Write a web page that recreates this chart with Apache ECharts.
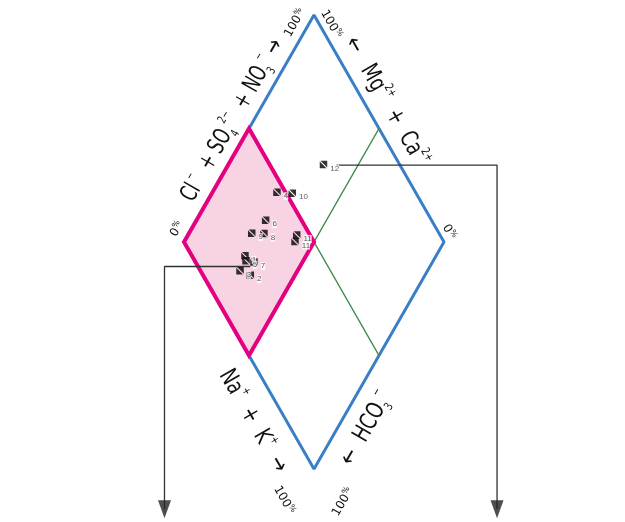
<!DOCTYPE html>
<html>
<head>
<meta charset="utf-8">
<script src="https://cdn.jsdelivr.net/npm/echarts@6/dist/echarts.min.js"></script>
<style>
html, body { margin: 0; padding: 0; background: #fff; }
#main { width: 625px; height: 522px; }
</style>
</head>
<body>
<div id="main"></div>
<script>
// sample labels and their Piper diamond percentages
const sampleNames = ['1', '2', '3', '4', '5', '6', '7', '8', '9', '10', '11', '11', '12'];
// Cl- + SO4 2- + NO3- (%), read along the upper-left edge
const anionPct = [20.4, 18.2, 15.2, 46.7, 19.7, 36.2, 22.5, 32.6, 28.0, 52.4, 44.9, 42.8, 70.7];
// Na+ + K+ (%), read along the lower-left edge
const cationPct = [26.5, 32.8, 27.9, 24.8, 28.0, 26.6, 31.3, 28.9, 24.1, 30.9, 41.8, 42.6, 36.6];

// diamond corners and the highlighted quarter, in (anion %, cation %)
const diamondCorners = [[0, 0], [100, 0], [100, 100], [0, 100], [0, 0]];
const pinkCorners = [[0, 0], [50, 0], [50, 50], [0, 50]];
const greenLine = [[100, 50], [50, 50], [50, 100]];

// leader arrows to the plots below (diamond units)
const leftLeader = [[-0.49, -0.108], [-1.15, -0.108], [-1.15, -1.177]];
const rightLeader = [[0.17, 0.339], [1.408, 0.339], [1.408, -1.177]];

// layout: diamond is 260 x 454 px, centre at (314, 242)
const cx = 314, cy = 242, hw = 130, hh = 227;
const W = 625, H = 522;

function toXY(s, n) {
  return [(s + n) / 100 - 1, (s - n) / 100];
}

const ang = Math.atan2(hh, hw);
const edgeLabels = [
  { x: -0.625, y: 0.535, rot: ang, sx: 0.69, text: '{m|Cl}{sup| −}{m|  + SO}{sub|4}{sup|2−}{m|  + NO}{sub|3}{sup|−}{m| →}' },
  { x: 0.555, y: 0.617, rot: -ang, sx: 0.74, text: '{m|←   Mg}{sup|2+}{m|  +  Ca}{sup|2+}' },
  { x: -0.47, y: -0.79, rot: -ang, sx: 0.74, text: '{m|Na}{sup|+}{m|  +  K}{sup|+}{m|  →}' },
  { x: 0.404, y: -0.821, rot: ang, sx: 0.76, text: '{m|←  HCO}{sub|3}{sup|−}' },
  { x: -1.054, y: 0.057, rot: ang, sx: 1, text: '{n|0}{p|%}' },
  { x: -0.146, y: 0.965, rot: ang, sx: 1, text: '{n|100}{p|%}' },
  { x: 0.131, y: 0.960, rot: -ang, sx: 1, text: '{n|100}{p|%}' },
  { x: 1.038, y: 0.044, rot: -ang, sx: 1, text: '{n|0}{p|%}' },
  { x: -0.231, y: -1.137, rot: -ang, sx: 1, text: '{n|100}{p|%}' },
  { x: 0.223, y: -1.145, rot: ang, sx: 1, text: '{n|100}{p|%}' }
];

const fontMain = "'DejaVu Sans', sans-serif";
const richStyles = {
  m: { fontSize: 24, lineHeight: 30, fontFamily: fontMain, color: '#111' },
  sup: { fontSize: 12, verticalAlign: 'top', fontFamily: fontMain, color: '#111' },
  sub: { fontSize: 12, verticalAlign: 'bottom', fontFamily: fontMain, color: '#111' },
  n: { fontSize: 12, lineHeight: 14, fontFamily: fontMain, color: '#111' },
  p: { fontSize: 8, verticalAlign: 'top', fontFamily: fontMain, color: '#111' }
};

const points = anionPct.map((s, i) => toXY(s, cationPct[i]).concat([sampleNames[i]]));

const markerPath = 'path://M1,0L10,0L10,9ZM0,1L0,10L9,10Z';

let option = {
  animation: false,
  grid: { left: 0, right: 0, top: 0, bottom: 0 },
  xAxis: { type: 'value', min: -cx / hw, max: (W - cx) / hw, show: false },
  yAxis: { type: 'value', min: (cy - H) / hh, max: cy / hh, show: false },
  series: [
    {
      type: 'line',
      data: diamondCorners.map(c => toXY(c[0], c[1])),
      symbol: 'none',
      lineStyle: { color: '#3a7fc6', width: 3 },
      z: 2
    },
    {
      type: 'line',
      data: greenLine.map(c => toXY(c[0], c[1])),
      symbol: 'none',
      lineStyle: { color: '#3f8c4e', width: 1.5 },
      z: 2
    },
    {
      type: 'custom',
      data: [0],
      z: 3,
      renderItem: function (params, api) {
        const pts = pinkCorners.map(c => api.coord(toXY(c[0], c[1])));
        return {
          type: 'polygon',
          shape: { points: pts },
          style: { fill: '#f8d3e3', stroke: '#e5007f', lineWidth: 4, lineJoin: 'miter' }
        };
      }
    },
    {
      type: 'line',
      data: leftLeader,
      symbol: 'none',
      lineStyle: { color: '#333', width: 1.3 },
      z: 4
    },
    {
      type: 'line',
      data: rightLeader,
      symbol: 'none',
      lineStyle: { color: '#333', width: 1.3 },
      z: 4
    },
    {
      type: 'scatter',
      data: [leftLeader[2], rightLeader[2]],
      symbol: 'triangle',
      symbolRotate: 180,
      symbolSize: [13, 18],
      itemStyle: { color: '#222' },
      z: 4
    },
    {
      type: 'scatter',
      data: points,
      symbol: markerPath,
      symbolSize: 7.5,
      itemStyle: { color: '#000' },
      label: {
        show: true,
        position: 'right',
        offset: [-2, 4],
        formatter: p => p.value[2],
        fontSize: 8,
        color: '#333',
        backgroundColor: '#fff',
        padding: [0, 0]
      },
      z: 6
    },
    {
      type: 'custom',
      data: edgeLabels.map(l => [l.x, l.y]),
      z: 7,
      renderItem: function (params, api) {
        const lb = edgeLabels[params.dataIndex];
        const p = api.coord([api.value(0), api.value(1)]);
        return {
          type: 'text',
          x: p[0],
          y: p[1],
          rotation: lb.rot,
          scaleX: lb.sx,
          style: {
            text: lb.text,
            rich: richStyles,
            align: 'center',
            verticalAlign: 'middle',
            fill: '#111'
          }
        };
      }
    }
  ]
};

let myChart = echarts.init(document.getElementById('main'));
option && myChart.setOption(option);
</script>
</body>
</html>
